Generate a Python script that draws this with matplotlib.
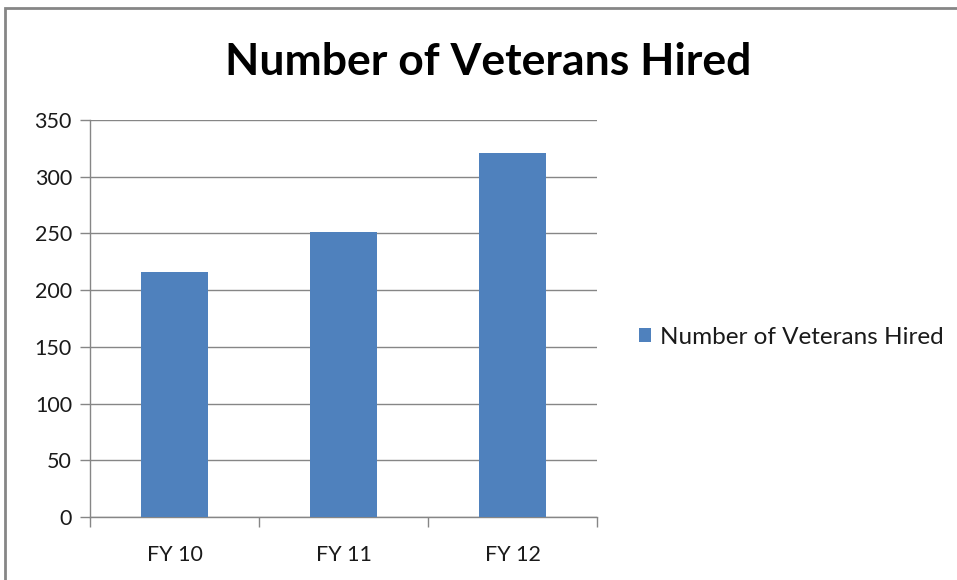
import matplotlib.pyplot as plt
from matplotlib.patches import Rectangle

# data
categories = ['FY 10', 'FY 11', 'FY 12']
veterans_hired = [216, 251, 321]
series_name = 'Number of Veterans Hired'
y_ticks = [0, 50, 100, 150, 200, 250, 300, 350]

plt.rcParams['font.family'] = ['Lato', 'DejaVu Sans']

fig = plt.figure(figsize=(9.57, 5.8), dpi=100)
ax = fig.add_axes([90 / 957, 1 - 517 / 580, 507 / 957, 397 / 580])

# outer frame of the chart area (cut off on the right and bottom)
fig.patches.append(Rectangle((5 / 957, -0.1), 1.2, 1 - 8 / 580 + 0.1,
                             transform=fig.transFigure, fill=False,
                             edgecolor='#868686', linewidth=2))

x = list(range(len(categories)))
ax.bar(x, veterans_hired, width=0.4, color='#4f81bd', label=series_name, zorder=3)

ax.set_xlim(-0.5, len(categories) - 0.5)
ax.set_ylim(0, 350)
ax.set_yticks(y_ticks)
ax.set_yticklabels([str(v) for v in y_ticks], fontsize=15.5, color='#1a1a1a')
ax.set_xticks(x)
ax.set_xticklabels(categories, fontsize=15.5, color='#1a1a1a')
ax.set_xticks([i - 0.5 for i in range(len(categories) + 1)], minor=True)

ax.tick_params(axis='x', which='major', length=0, pad=20)
ax.tick_params(axis='x', which='minor', length=7, color='#868686', width=1)
ax.tick_params(axis='y', length=7, color='#868686', width=1, pad=6)

ax.grid(axis='y', color='#868686', linewidth=1, zorder=0)
for side in ['top', 'right']:
    ax.spines[side].set_visible(False)
for side in ['left', 'bottom']:
    ax.spines[side].set_color('#868686')
    ax.spines[side].set_linewidth(1)

fig.text(488 / 957, 1 - 62 / 580, series_name, ha='center', va='center',
         fontsize=32, fontweight='bold', color='black')

fig.legend(loc='center left', bbox_to_anchor=(639 / 957, 1 - 337 / 580),
           frameon=False, fontsize=17.5, handlelength=0.5, handleheight=0.5,
           handletextpad=0.35, borderaxespad=0, borderpad=0,
           labelcolor='#1a1a1a')

fig.savefig('out.png', dpi=100)
